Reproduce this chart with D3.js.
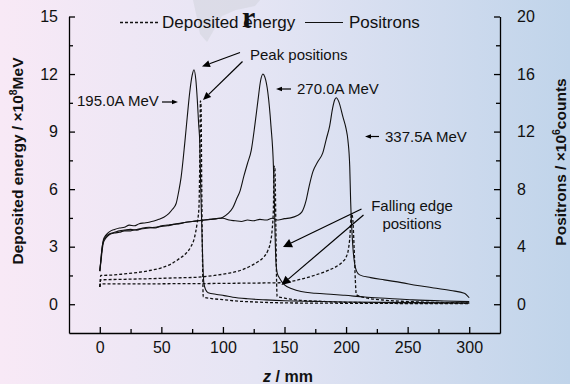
<!DOCTYPE html>
<html>
<head>
<meta charset="utf-8">
<script src="https://cdn.jsdelivr.net/npm/d3@7"></script>
<style>
  html, body { margin: 0; padding: 0; }
  body { width: 570px; height: 384px; overflow: hidden; }
  svg { display: block; font-family: "Liberation Sans", Arial, sans-serif; }
</style>
</head>
<body>
<svg id="chart" width="570" height="384"></svg>
<script>
// ---- data: positron yield (x10^6 counts) and deposited energy (x10^8 MeV) along z (mm)
const energies = ["195.0A MeV", "270.0A MeV", "337.5A MeV"];

const positrons195 = [[0,2.3],[1,3.2],[2,4.0],[3,4.5],[5,4.8],[8,5.05],[12,5.2],[16,5.3],[20,5.35],[24,5.5],[28,5.45],[32,5.6],[36,5.65],[40,5.7],[44,5.78],[48,5.9],[52,6.05],[56,6.3],[59,6.6],[62,7.0],[64,7.8],[66,8.8],[69,11.2],[71,13.0],[73,14.7],[75,15.9],[76.5,16.3],[78,15.6],[79.2,14.2],[80.3,12.5],[81.2,11.2],[82,8.0],[82.8,5.5],[83.6,3.0],[84.5,1.5],[86,1.0],[88,0.8],[95,0.68],[101,0.6],[108,0.49],[120,0.38],[135,0.3],[150,0.24],[175,0.2],[200,0.16],[230,0.13],[260,0.11],[300,0.09]];

const positrons270 = [[0,2.3],[1,3.2],[2,4.0],[3,4.4],[5,4.7],[8,4.9],[12,5.0],[16,5.1],[20,5.15],[25,5.2],[30,5.15],[35,5.3],[40,5.35],[45,5.3],[50,5.45],[55,5.5],[60,5.55],[65,5.62],[70,5.7],[75,5.75],[80,5.8],[85,5.85],[90,5.9],[95,5.95],[100,6.05],[104,6.3],[108,6.7],[111,7.3],[114,7.9],[117,8.9],[120,9.8],[123,10.7],[126,12.5],[128.5,14.2],[130.5,15.5],[132.5,16.0],[134,15.8],[136.5,14.7],[139,12.4],[141,9.6],[141.7,7.5],[142.3,5.0],[143,3.0],[144,2.2],[146,1.8],[150,1.34],[156,1.08],[163.5,0.88],[175,0.76],[190,0.68],[199,0.62],[215,0.5],[235,0.4],[254,0.3],[280,0.22],[300,0.18]];

const positrons337 = [[0,2.3],[1,3.0],[2,3.8],[3,4.3],[5,4.6],[8,4.85],[12,4.95],[16,5.0],[20,5.1],[25,5.1],[30,5.2],[35,5.25],[40,5.3],[45,5.35],[50,5.4],[55,5.45],[60,5.55],[65,5.6],[70,5.7],[75,5.75],[80,5.8],[85,5.85],[90,5.9],[95,5.95],[100,5.98],[105,5.85],[110,5.8],[115,5.75],[120,5.85],[125,5.8],[130,5.9],[135,5.85],[140,5.98],[145,5.85],[150,5.95],[155,6.0],[160,6.15],[164,6.4],[167.5,7.2],[170,8.2],[173,9.2],[177,9.9],[181,10.5],[184,11.5],[186.7,12.4],[189,13.6],[190.7,14.2],[192,14.35],[194,14.1],[197.5,13.0],[200,12.2],[201.5,11.4],[203,9.5],[203.7,7.2],[204.5,5.5],[205.5,4.0],[207,2.8],[208.5,2.3],[211,2.04],[220,1.85],[231,1.69],[245,1.5],[258,1.3],[270,1.15],[285,0.95],[296,0.77],[300,0.45]];

const deposit195 = [[0,0.9],[0.8,1.5],[10,1.52],[20,1.58],[30,1.65],[40,1.75],[50,1.9],[58,2.1],[64,2.35],[70,2.65],[74,3.0],[77,3.5],[79,4.2],[80.5,5.0],[81.2,7.5],[81.7,10.6],[82.2,10.4],[82.8,6.0],[83.5,2.0],[84,0.38],[90,0.3],[100,0.24],[110,0.17],[125,0.12],[150,0.07],[200,0.05],[300,0.03]];

const deposit270 = [[0,0.9],[0.8,1.27],[20,1.3],[40,1.33],[60,1.37],[80,1.41],[93,1.5],[105,1.62],[115,1.78],[122,1.98],[128,2.2],[133,2.45],[136.5,2.8],[138.5,3.2],[140,3.9],[141,5.0],[141.5,7.2],[142.2,7.1],[143,4.0],[143.5,1.5],[144,0.4],[150,0.32],[160,0.22],[180,0.15],[200,0.1],[250,0.07],[300,0.05]];

const deposit337 = [[0,0.9],[0.8,1.06],[30,1.06],[60,1.07],[90,1.08],[120,1.1],[146,1.12],[160,1.25],[173,1.48],[185,1.75],[192,1.96],[197,2.2],[200,2.45],[202,2.9],[203.2,3.6],[204,4.5],[204.6,4.7],[205.5,4.4],[206.5,3.0],[207.5,1.3],[208.3,0.5],[215,0.35],[230,0.22],[260,0.12],[300,0.07]];

const xTicks = [0, 50, 100, 150, 200, 250, 300];
const leftTicks = [0, 3, 6, 9, 12, 15];
const rightTicks = [0, 4, 8, 12, 16, 20];

// ---- layout
const svg = d3.select("#chart");
const font = '"Liberation Sans", Arial, sans-serif';

const defs = svg.append("defs");
const bg = defs.append("linearGradient").attr("id", "bg").attr("x1", 0).attr("x2", 1).attr("y1", 0).attr("y2", 0);
bg.append("stop").attr("offset", "0%").attr("stop-color", "#f8e9f6");
bg.append("stop").attr("offset", "45%").attr("stop-color", "#e5e5f4");
bg.append("stop").attr("offset", "100%").attr("stop-color", "#c0d4ea");
svg.append("rect").attr("width", 570).attr("height", 384).attr("fill", "url(#bg)");

// faint grey smudge behind the legend
svg.append("path")
  .attr("d", "M193,0 L260,0 L255,6 L236,10 L222,16 L215,28 L207,42 L200,34 L197,18 Z")
  .attr("fill", "#d2d3dc").attr("opacity", 0.55);

const x = d3.scaleLinear().domain([-25, 325]).range([69, 500]);
const yL = d3.scaleLinear().domain([-1.5, 15]).range([333, 16.5]);
const yR = d3.scaleLinear().domain([-2, 20]).range([333, 16.5]);

function styleAxis(g) {
  g.selectAll("path, line").attr("stroke", "#000").attr("stroke-width", 1.3);
  g.selectAll("text").attr("font-family", font).attr("font-size", 16).attr("fill", "#111");
}

// bottom axis
svg.append("g").attr("transform", "translate(0,333)")
  .call(d3.axisBottom(x).tickValues(xTicks).tickSizeInner(-6).tickSizeOuter(0).tickPadding(9).tickFormat(d3.format("d")))
  .call(styleAxis);
svg.append("g").attr("transform", "translate(0,333)")
  .call(d3.axisBottom(x).tickValues([25, 75, 125, 175, 225, 275]).tickSizeInner(-4).tickSizeOuter(0).tickFormat(""))
  .call(styleAxis).call(g => g.select(".domain").remove());

// left axis
svg.append("g").attr("transform", "translate(69,0)")
  .call(d3.axisLeft(yL).tickValues(leftTicks).tickSizeInner(-6).tickSizeOuter(0).tickPadding(11))
  .call(styleAxis);
svg.append("g").attr("transform", "translate(69,0)")
  .call(d3.axisLeft(yL).tickValues([1.5, 4.5, 7.5, 10.5, 13.5]).tickSizeInner(-4).tickSizeOuter(0).tickFormat(""))
  .call(styleAxis).call(g => g.select(".domain").remove());

// right axis
svg.append("g").attr("transform", "translate(500,0)")
  .call(d3.axisRight(yR).tickValues(rightTicks).tickSizeInner(-6).tickSizeOuter(0).tickPadding(17))
  .call(styleAxis);
svg.append("g").attr("transform", "translate(500,0)")
  .call(d3.axisRight(yR).tickValues([2, 6, 10, 14, 18]).tickSizeInner(-4).tickSizeOuter(0).tickFormat(""))
  .call(styleAxis).call(g => g.select(".domain").remove());

// ---- curves
const lineL = d3.line().x(d => x(d[0])).y(d => yL(d[1])).curve(d3.curveMonotoneX);
const lineR = d3.line().x(d => x(d[0])).y(d => yR(d[1])).curve(d3.curveMonotoneX);

const plot = svg.append("g").attr("fill", "none");
[deposit195, deposit270, deposit337].forEach(s => {
  plot.append("path").attr("d", lineL(s)).attr("stroke", "#111")
    .attr("stroke-width", 1.3).attr("stroke-dasharray", "3,2");
});
[positrons195, positrons270, positrons337].forEach(s => {
  plot.append("path").attr("d", lineR(s)).attr("stroke", "#111").attr("stroke-width", 1.1);
});

// ---- annotations
function arrow(x1, y1, x2, y2, len, half) {
  const a = Math.atan2(y2 - y1, x2 - x1);
  const bx = x2 - len * Math.cos(a), by = y2 - len * Math.sin(a);
  svg.append("line").attr("x1", x1).attr("y1", y1).attr("x2", bx).attr("y2", by)
    .attr("stroke", "#000").attr("stroke-width", 1.2);
  const px = -Math.sin(a) * half, py = Math.cos(a) * half;
  svg.append("path")
    .attr("d", `M${x2},${y2} L${bx + px},${by + py} L${bx - px},${by - py} Z`)
    .attr("fill", "#000");
}
function label(tx, ty, str, anchor) {
  svg.append("text").attr("x", tx).attr("y", ty).attr("font-family", font)
    .attr("font-size", 15).attr("fill", "#111").attr("text-anchor", anchor || "start").text(str);
}

// legend
svg.append("line").attr("x1", 120).attr("x2", 158).attr("y1", 22.5).attr("y2", 22.5)
  .attr("stroke", "#111").attr("stroke-width", 1.3).attr("stroke-dasharray", "3,2");
svg.append("text").attr("x", 162).attr("y", 28).attr("font-family", font).attr("font-size", 17)
  .attr("fill", "#111").text("Deposited energy");
svg.append("line").attr("x1", 305).attr("x2", 343).attr("y1", 22.5).attr("y2", 22.5)
  .attr("stroke", "#111").attr("stroke-width", 1.1);
svg.append("text").attr("x", 349).attr("y", 28).attr("font-family", font).attr("font-size", 17)
  .attr("fill", "#111").text("Positrons");
svg.append("text").attr("x", 242).attr("y", 27).attr("font-family", '"Liberation Serif", "DejaVu Serif", serif')
  .attr("font-size", 30).attr("font-weight", "bold").attr("fill", "#111").text("r");

// peak annotation
label(250, 60, "Peak positions");
arrow(240, 52.5, 202, 66.5, 8, 3.5);
arrow(242.5, 61.5, 203, 100, 8, 3.5);

// beam energy labels
label(77, 106, energies[0]);
arrow(162, 102, 178, 102, 6, 2.2);
label(297, 94, energies[1]);
arrow(291, 89, 276, 89, 6, 2.2);
label(385, 142, energies[2]);
arrow(379, 136.5, 365, 136.5, 6, 2.2);

// falling edge annotation
label(412, 211, "Falling edge", "middle");
label(412, 229, "positions", "middle");
arrow(361.5, 209, 283, 247, 9, 4.5);
arrow(363.5, 215, 281.5, 285, 9, 4.5);

// ---- axis titles
const lt = svg.append("text").attr("transform", "translate(23,161) rotate(-90)")
  .attr("text-anchor", "middle").attr("font-family", font).attr("font-size", 15.5)
  .attr("font-weight", "bold").attr("fill", "#111");
lt.append("tspan").text("Deposited energy / ×10");
lt.append("tspan").attr("dy", -6).attr("font-size", 10.5).text("8");
lt.append("tspan").attr("dy", 6).text("MeV");

const rt = svg.append("text").attr("transform", "translate(566,162) rotate(-90)")
  .attr("text-anchor", "middle").attr("font-family", font).attr("font-size", 15.5)
  .attr("font-weight", "bold").attr("fill", "#111");
rt.append("tspan").text("Positrons / ×10");
rt.append("tspan").attr("dy", -6).attr("font-size", 10.5).text("6");
rt.append("tspan").attr("dy", 6).text("counts");

const bt = svg.append("text").attr("x", 288).attr("y", 382).attr("text-anchor", "middle")
  .attr("font-family", font).attr("font-size", 16).attr("font-weight", "bold").attr("fill", "#111");
bt.append("tspan").attr("font-style", "italic").text("z");
bt.append("tspan").text(" / mm");
</script>
</body>
</html>
